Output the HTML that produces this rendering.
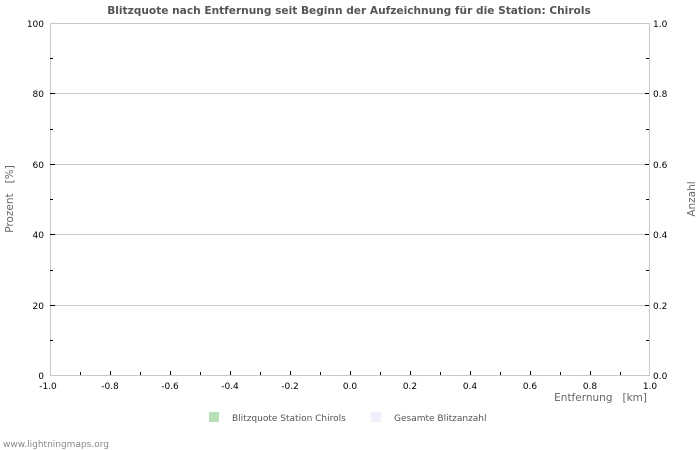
<!DOCTYPE html>
<html><head><meta charset="utf-8"><style>
html,body{margin:0;padding:0;background:#fff;}
svg{display:block;font-family:"DejaVu Sans","Liberation Sans",sans-serif;}
</style></head><body>
<svg width="700" height="450" viewBox="0 0 700 450" xmlns="http://www.w3.org/2000/svg">
<rect width="700" height="450" fill="#fff"/>
<text x="349" y="14" text-anchor="middle" font-size="10.6" font-weight="bold" fill="#555">Blitzquote nach Entfernung seit Beginn der Aufzeichnung für die Station: Chirols</text>
<g stroke="#c8c8c8" stroke-width="1">
<line x1="50" y1="23.5" x2="650" y2="23.5"/>
<line x1="50" y1="93.5" x2="650" y2="93.5"/>
<line x1="50" y1="164.5" x2="650" y2="164.5"/>
<line x1="50" y1="234.5" x2="650" y2="234.5"/>
<line x1="50" y1="305.5" x2="650" y2="305.5"/>
<line x1="50" y1="375.5" x2="650" y2="375.5"/>
<line x1="50.5" y1="23" x2="50.5" y2="376"/>
<line x1="649.5" y1="23" x2="649.5" y2="376"/>
</g>
<g stroke="#000" stroke-width="1">
<line x1="50" y1="93.5" x2="55" y2="93.5"/><line x1="50" y1="164.5" x2="55" y2="164.5"/><line x1="50" y1="234.5" x2="55" y2="234.5"/><line x1="50" y1="305.5" x2="55" y2="305.5"/>
<line x1="50" y1="58.5" x2="53" y2="58.5"/><line x1="50" y1="129.5" x2="53" y2="129.5"/><line x1="50" y1="199.5" x2="53" y2="199.5"/><line x1="50" y1="270.5" x2="53" y2="270.5"/><line x1="50" y1="340.5" x2="53" y2="340.5"/>
<line x1="645" y1="93.5" x2="649" y2="93.5"/><line x1="645" y1="164.5" x2="649" y2="164.5"/><line x1="645" y1="234.5" x2="649" y2="234.5"/><line x1="645" y1="305.5" x2="649" y2="305.5"/>
<line x1="646" y1="58.5" x2="649" y2="58.5"/><line x1="646" y1="129.5" x2="649" y2="129.5"/><line x1="646" y1="199.5" x2="649" y2="199.5"/><line x1="646" y1="270.5" x2="649" y2="270.5"/><line x1="646" y1="340.5" x2="649" y2="340.5"/>
<line x1="110.5" y1="371" x2="110.5" y2="375"/><line x1="170.5" y1="371" x2="170.5" y2="375"/><line x1="230.5" y1="371" x2="230.5" y2="375"/><line x1="290.5" y1="371" x2="290.5" y2="375"/><line x1="350.5" y1="371" x2="350.5" y2="375"/><line x1="410.5" y1="371" x2="410.5" y2="375"/><line x1="470.5" y1="371" x2="470.5" y2="375"/><line x1="530.5" y1="371" x2="530.5" y2="375"/><line x1="590.5" y1="371" x2="590.5" y2="375"/>
<line x1="80.5" y1="372" x2="80.5" y2="375"/><line x1="140.5" y1="372" x2="140.5" y2="375"/><line x1="200.5" y1="372" x2="200.5" y2="375"/><line x1="260.5" y1="372" x2="260.5" y2="375"/><line x1="320.5" y1="372" x2="320.5" y2="375"/><line x1="380.5" y1="372" x2="380.5" y2="375"/><line x1="440.5" y1="372" x2="440.5" y2="375"/><line x1="500.5" y1="372" x2="500.5" y2="375"/><line x1="560.5" y1="372" x2="560.5" y2="375"/><line x1="620.5" y1="372" x2="620.5" y2="375"/>
</g>
<g font-size="9" fill="#000" text-anchor="end">
<text x="44" y="27">100</text><text x="44" y="97">80</text><text x="44" y="168">60</text><text x="44" y="238">40</text><text x="44" y="309">20</text><text x="44" y="379">0</text>
</g>
<g font-size="9" fill="#000">
<text x="653" y="27">1.0</text><text x="653" y="97">0.8</text><text x="653" y="168">0.6</text><text x="653" y="238">0.4</text><text x="653" y="309">0.2</text><text x="653" y="379">0.0</text>
</g>
<g font-size="9" fill="#000" text-anchor="middle">
<text x="48" y="389">-1.0</text><text x="110" y="389">-0.8</text><text x="170" y="389">-0.6</text><text x="230" y="389">-0.4</text><text x="290" y="389">-0.2</text><text x="350" y="389">0.0</text><text x="410" y="389">0.2</text><text x="470" y="389">0.4</text><text x="530" y="389">0.6</text><text x="590" y="389">0.8</text><text x="650" y="389">1.0</text>
</g>
<text x="647" y="401" text-anchor="end" font-size="10.5" fill="#666" xml:space="preserve">Entfernung   [km]</text>
<text transform="translate(13,199) rotate(-90)" text-anchor="middle" font-size="10.5" fill="#666" xml:space="preserve">Prozent   [%]</text>
<text transform="translate(695,199) rotate(-90)" text-anchor="middle" font-size="10.5" fill="#666">Anzahl</text>
<rect x="209" y="412" width="10" height="10" fill="#b8e0b8"/>
<text x="232" y="421" font-size="9" fill="#555">Blitzquote Station Chirols</text>
<rect x="371" y="412" width="10" height="10" fill="#f0f0fc"/>
<text x="394" y="421" font-size="9" fill="#555">Gesamte Blitzanzahl</text>
<text x="3" y="447" font-size="9" fill="#888">www.lightningmaps.org</text>
</svg>
</body></html>
